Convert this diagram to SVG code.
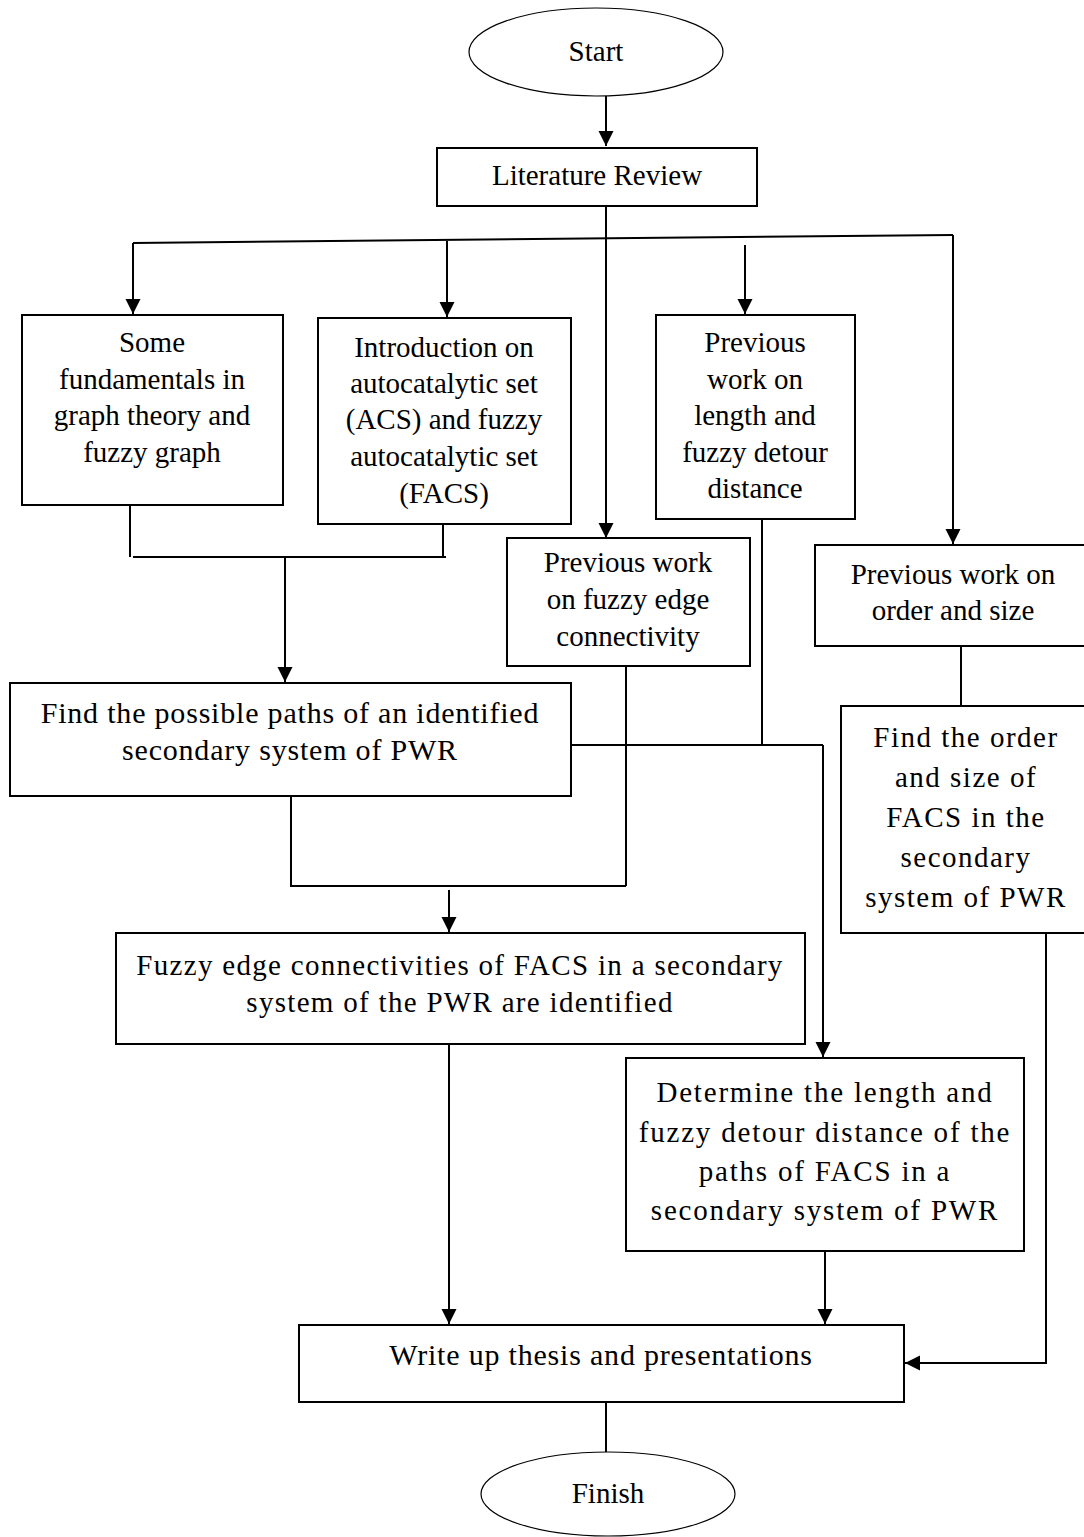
<svg xmlns="http://www.w3.org/2000/svg" width="1084" height="1537" viewBox="0 0 1084 1537">
<style>
.box{fill:#fff;stroke:#000;stroke-width:2}
.ell{fill:#fff;stroke:#000;stroke-width:1.2}
.c{fill:none;stroke:#000;stroke-width:2}
.a{fill:none;stroke:#000;stroke-width:2;marker-end:url(#ah)}
text{font-size:29px;fill:#000;text-anchor:middle}
.w{font-size:30px;letter-spacing:0.8px}
.s{letter-spacing:1.5px}
</style>
<defs>
<marker id="ah" markerUnits="userSpaceOnUse" markerWidth="16" markerHeight="16" refX="15" refY="7.5" orient="auto">
<path d="M0,0 L15,7.5 L0,15 Z" fill="#000"/>
</marker>
</defs>
<g id="connectors">
<path class="a" d="M606,95 V146"/>
<path class="a" d="M606,206 V538"/>
<path class="c" d="M133,243 L953,235"/>
<path class="a" d="M133,243 V314"/>
<path class="a" d="M447,241 V317"/>
<path class="a" d="M745,245 V314"/>
<path class="a" d="M953,235 V544"/>
<path class="c" d="M130,505 V557 M443,524 V557 M133,557 H446"/>
<path class="a" d="M285,557 V682"/>
<path class="c" d="M626,666 V886 M291,796 V886 H626"/>
<path class="a" d="M449,890 V932"/>
<path class="c" d="M762,519 V745 M571,745 H823"/>
<path class="a" d="M823,745 V1057"/>
<path class="c" d="M961,646 V706"/>
<path class="a" d="M1046,933 V1363 H905"/>
<path class="a" d="M449,1044 V1324"/>
<path class="a" d="M825,1251 V1324"/>
<path class="c" d="M606,1402 V1452"/>
</g>
<g font-family="Liberation Serif, serif">
<g id="start"><ellipse class="ell" cx="596" cy="52" rx="127" ry="44"/><text x="596" y="61">Start</text></g>
<g id="literature-review"><rect class="box" x="437" y="148" width="320" height="58"/><text x="597" y="185">Literature Review</text></g>
<g id="fundamentals"><rect class="box" x="22" y="315" width="261" height="190"/>
<text x="152" y="352">Some</text><text x="152" y="389">fundamentals in</text><text x="152" y="425">graph theory and</text><text x="152" y="462">fuzzy graph</text></g>
<g id="introduction-acs"><rect class="box" x="318" y="318" width="253" height="206"/>
<text x="444" y="357">Introduction on</text><text x="444" y="393">autocatalytic set</text><text x="444" y="429">(ACS) and fuzzy</text><text x="444" y="466">autocatalytic set</text><text x="444" y="503">(FACS)</text></g>
<g id="previous-length"><rect class="box" x="656" y="315" width="199" height="204"/>
<text x="755" y="352">Previous</text><text x="755" y="389">work on</text><text x="755" y="425">length and</text><text x="755" y="462">fuzzy detour</text><text x="755" y="498">distance</text></g>
<g id="previous-edge"><rect class="box" x="507" y="538" width="243" height="128"/>
<text x="628" y="572">Previous work</text><text x="628" y="609">on fuzzy edge</text><text x="628" y="646">connectivity</text></g>
<g id="previous-order"><rect class="box" x="815" y="545" width="275" height="101"/>
<text x="953" y="584">Previous work on</text><text x="953" y="620">order and size</text></g>
<g id="find-paths"><rect class="box" x="10" y="683" width="561" height="113"/>
<text class="w" x="290" y="723">Find the possible paths of an identified</text><text class="w" x="290" y="760">secondary system of PWR</text></g>
<g id="find-order"><rect class="box" x="841" y="706" width="250" height="227"/>
<text class="s" x="966" y="747">Find the order</text><text class="s" x="966" y="787">and size of</text><text class="s" x="966" y="827">FACS in the</text><text class="s" x="966" y="867">secondary</text><text class="s" x="966" y="907">system of PWR</text></g>
<g id="fuzzy-edge"><rect class="box" x="116" y="933" width="689" height="111"/>
<text x="460" y="975" style="letter-spacing:1.3px">Fuzzy edge connectivities of FACS in a secondary</text><text x="460" y="1012" style="letter-spacing:1.3px">system of the PWR are identified</text></g>
<g id="determine"><rect class="box" x="626" y="1058" width="398" height="193"/>
<text x="825" y="1102" style="letter-spacing:1.8px">Determine the length and</text><text x="825" y="1142" style="letter-spacing:1.8px">fuzzy detour distance of the</text><text x="825" y="1181" style="letter-spacing:1.8px">paths of FACS in a</text><text x="825" y="1220" style="letter-spacing:1.8px">secondary system of PWR</text></g>
<g id="write-up"><rect class="box" x="299" y="1325" width="605" height="77"/><text class="w" x="601" y="1365">Write up thesis and presentations</text></g>
<g id="finish"><ellipse class="ell" cx="608" cy="1494" rx="127" ry="42"/><text x="608" y="1503">Finish</text></g>
</g>
</svg>
